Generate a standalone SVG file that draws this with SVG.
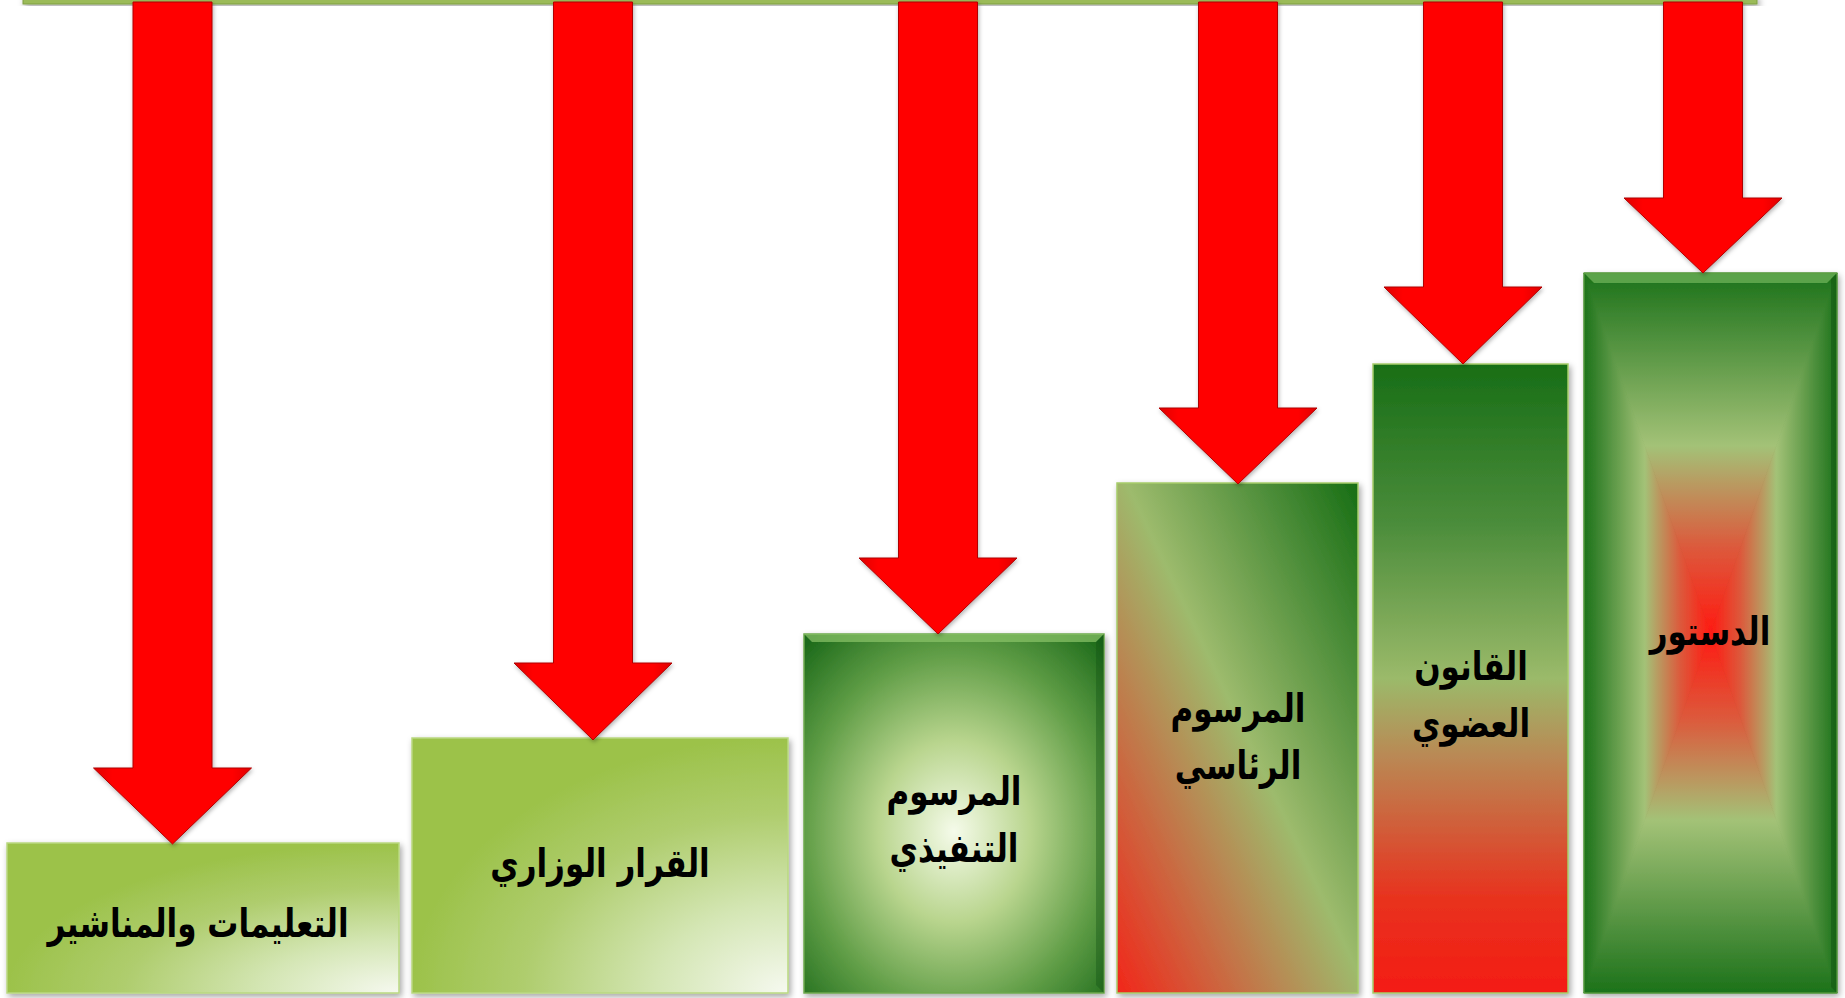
<svg xmlns="http://www.w3.org/2000/svg" width="1845" height="998" viewBox="0 0 1845 998">
<style>
.lbl{font-family:'DejaVu Sans',sans-serif;font-weight:bold;font-size:31px;fill:#000;text-anchor:middle}
.arrow{stroke:#b00000;stroke-width:1}
</style>
<defs>
<filter id="sh" x="-10%" y="-10%" width="130%" height="130%">
<feDropShadow dx="2" dy="3" stdDeviation="3" flood-color="#000" flood-opacity="0.35"/>
</filter>
<filter id="ash" x="-20%" y="-5%" width="140%" height="115%">
<feDropShadow dx="1" dy="2" stdDeviation="2" flood-color="#000" flood-opacity="0.3"/>
</filter>
<radialGradient id="gLight" cx="1" cy="1" r="1" fx="1" fy="1">
<stop offset="0" stop-color="#f6f9f0"/>
<stop offset="0.35" stop-color="#d4e6b4"/>
<stop offset="0.7" stop-color="#afcd6e"/>
<stop offset="1" stop-color="#9cc24a"/>
</radialGradient>
<radialGradient id="g3" cx="0.5" cy="0.55" r="0.72">
<stop offset="0" stop-color="#f5fbea"/>
<stop offset="0.35" stop-color="#b9d58e"/>
<stop offset="0.7" stop-color="#5e9c45"/>
<stop offset="1" stop-color="#1c6a1a"/>
</radialGradient>
<linearGradient id="g4" x1="0" y1="1" x2="1" y2="0">
<stop offset="0" stop-color="#f2261a"/>
<stop offset="0.3" stop-color="#bf7c4c"/>
<stop offset="0.52" stop-color="#9dbb6d"/>
<stop offset="0.8" stop-color="#4e8e3a"/>
<stop offset="1" stop-color="#176e14"/>
</linearGradient>
<linearGradient id="g5" x1="0" y1="0" x2="0" y2="1">
<stop offset="0" stop-color="#186e16"/>
<stop offset="0.25" stop-color="#4a8c3a"/>
<stop offset="0.5" stop-color="#9bba6a"/>
<stop offset="0.62" stop-color="#b98a55"/>
<stop offset="0.85" stop-color="#e8321e"/>
<stop offset="1" stop-color="#f41c14"/>
</linearGradient>
<linearGradient id="g6t" gradientUnits="userSpaceOnUse" x1="0" y1="273" x2="0" y2="633">
<stop offset="0" stop-color="#1c721a"/>
<stop offset="0.48" stop-color="#a3c277"/>
<stop offset="0.58" stop-color="#b89c62"/>
<stop offset="0.76" stop-color="#dc5a3c"/>
<stop offset="1" stop-color="#ff1a12"/>
</linearGradient>
<linearGradient id="g6b" gradientUnits="userSpaceOnUse" x1="0" y1="993" x2="0" y2="633">
<stop offset="0" stop-color="#1c721a"/>
<stop offset="0.48" stop-color="#a3c277"/>
<stop offset="0.58" stop-color="#b89c62"/>
<stop offset="0.76" stop-color="#dc5a3c"/>
<stop offset="1" stop-color="#ff1a12"/>
</linearGradient>
<linearGradient id="g6l" gradientUnits="userSpaceOnUse" x1="1584" y1="0" x2="1710.5" y2="0">
<stop offset="0" stop-color="#1c721a"/>
<stop offset="0.48" stop-color="#a3c277"/>
<stop offset="0.58" stop-color="#b89c62"/>
<stop offset="0.76" stop-color="#dc5a3c"/>
<stop offset="1" stop-color="#ff1a12"/>
</linearGradient>
<linearGradient id="g6r" gradientUnits="userSpaceOnUse" x1="1837" y1="0" x2="1710.5" y2="0">
<stop offset="0" stop-color="#1c721a"/>
<stop offset="0.48" stop-color="#a3c277"/>
<stop offset="0.58" stop-color="#b89c62"/>
<stop offset="0.76" stop-color="#dc5a3c"/>
<stop offset="1" stop-color="#ff1a12"/>
</linearGradient>
<linearGradient id="gArrow" x1="0" y1="0" x2="1" y2="0">
<stop offset="0" stop-color="#e00000"/>
<stop offset="0.12" stop-color="#ff0505"/>
<stop offset="0.88" stop-color="#ff0505"/>
<stop offset="1" stop-color="#e00000"/>
</linearGradient>
</defs>
<rect width="1845" height="998" fill="#ffffff"/>

<g id="topbar">
<rect x="23" y="-4" width="1734" height="8" fill="#9bbb59" stroke="#7f9e45" stroke-width="1" filter="url(#sh)"/>
</g>

<g id="node1">
<rect x="7" y="843" width="392" height="150" fill="url(#gLight)" stroke="#b9d880" stroke-width="1.5" filter="url(#sh)"/>
<text class="lbl" transform="translate(198,937) scale(1,1.27)">التعليمات والمناشير</text>
</g>

<g id="node2">
<rect x="412" y="738" width="376" height="255" fill="url(#gLight)" stroke="#b9d880" stroke-width="1.5" filter="url(#sh)"/>
<text class="lbl" transform="translate(600,877) scale(1,1.27)">القرار الوزاري</text>
</g>

<g id="node3">
<rect x="804" y="634" width="300" height="359" fill="url(#g3)" stroke="#6ea84e" stroke-width="1.5" filter="url(#sh)"/>
<polygon points="804,634 1104,634 1096,642 812,642" fill="#8cc46a" opacity="0.7"/>
<polygon points="1104,634 1104,993 1096,985 1096,642" fill="#0f4e10" opacity="0.35"/>
<text class="lbl" transform="translate(954,805) scale(1,1.27)">المرسوم</text>
<text class="lbl" transform="translate(954,862) scale(1,1.27)">التنفيذي</text>
</g>

<g id="node4">
<rect x="1117" y="483" width="241" height="510" fill="url(#g4)" stroke="#a6cc6a" stroke-width="1.5" filter="url(#sh)"/>
<text class="lbl" transform="translate(1238,722) scale(1,1.27)">المرسوم</text>
<text class="lbl" transform="translate(1238,779) scale(1,1.27)">الرئاسي</text>
</g>

<g id="node5">
<rect x="1373" y="364" width="195" height="629" fill="url(#g5)" stroke="#a6cc6a" stroke-width="1.5" filter="url(#sh)"/>
<text class="lbl" transform="translate(1471,680) scale(1,1.27)">القانون</text>
<text class="lbl" transform="translate(1471,737) scale(1,1.27)">العضوي</text>
</g>

<g id="node6">
<g filter="url(#sh)">
<rect x="1584" y="273" width="253" height="720" fill="#1c721a"/>
<polygon points="1584,273 1837,273 1710.5,633" fill="url(#g6t)" stroke="url(#g6t)" stroke-width="0.8"/>
<polygon points="1584,993 1837,993 1710.5,633" fill="url(#g6b)" stroke="url(#g6b)" stroke-width="0.8"/>
<polygon points="1584,273 1584,993 1710.5,633" fill="url(#g6l)" stroke="url(#g6l)" stroke-width="0.8"/>
<polygon points="1837,273 1837,993 1710.5,633" fill="url(#g6r)" stroke="url(#g6r)" stroke-width="0.8"/>
</g>
<polygon points="1584,273 1837,273 1827,283 1594,283" fill="#6fb35a" opacity="0.75"/>
<polygon points="1837,273 1837,993 1831,987 1831,279" fill="#0c4a0c" opacity="0.4"/>
<rect x="1584" y="273" width="253" height="720" fill="none" stroke="#5e9e40" stroke-width="1.2"/>
<text class="lbl" transform="translate(1710,645) scale(1,1.27)">الدستور</text>
</g>

<g id="connectors" class="arrow" fill="url(#gArrow)" filter="url(#ash)">
<path d="M133,2 H212 V768 H251.5 L172.5,844 L93.5,768 H133 Z"/>
<path d="M553.5,2 H632.5 V663 H672 L593,740 L514,663 H553.5 Z"/>
<path d="M898.5,2 H977.5 V558 H1017 L938,634 L859,558 H898.5 Z"/>
<path d="M1198.5,2 H1277.5 V408 H1317 L1238,484 L1159,408 H1198.5 Z"/>
<path d="M1423.5,2 H1502.5 V287 H1542 L1463,364 L1384,287 H1423.5 Z"/>
<path d="M1663.5,2 H1742.5 V198 H1782 L1703,273 L1624,198 H1663.5 Z"/>
</g>
</svg>
